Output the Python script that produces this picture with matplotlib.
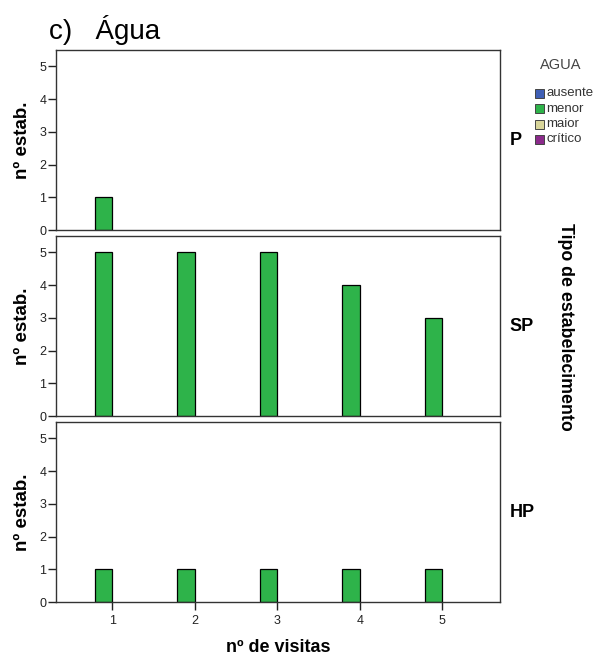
import matplotlib.pyplot as plt
from matplotlib.patches import Rectangle

plt.rcParams['font.family'] = ['Liberation Sans', 'DejaVu Sans']

# dados
visitas = [1, 2, 3, 4, 5]
tipos = ["P", "SP", "HP"]
categorias = ["ausente", "menor", "maior", "crítico"]
cores = ["#3F5FB5", "#2EB34A", "#D8D59A", "#8B2A8B"]

# contagens de "menor" por tipo de estabelecimento
menor_P = [1, 0, 0, 0, 0]
menor_SP = [5, 5, 5, 4, 3]
menor_HP = [1, 1, 1, 1, 1]
valores = [menor_P, menor_SP, menor_HP]

W, H = 596, 664
fig = plt.figure(figsize=(W / 100, H / 100), dpi=100)

left, width = 0.094, 0.745
tops = [0.9247, 0.6446, 0.3645]
h = 0.2715
largura = 0.21

for i, (tipo, vals) in enumerate(zip(tipos, valores)):
    ax = fig.add_axes([left, tops[i] - h, width, h])
    xs = [v - largura for v, n in zip(visitas, vals) if n > 0]
    ys = [n for n in vals if n > 0]
    ax.bar(xs, ys, width=largura, align="edge",
           color=cores[1], edgecolor="black", linewidth=0.9)
    ax.set_xlim(0.32, 5.7)
    ax.set_ylim(0, 5.5)
    ax.set_yticks(range(6))
    ax.tick_params(axis="y", direction="out", length=6, width=1, labelsize=9,
                   colors="#222222", pad=1)
    if i < 2:
        ax.set_xticks([])
    else:
        ax.set_xticks(visitas)
        ax.tick_params(axis="x", direction="out", length=6, width=1,
                       labelsize=9, colors="#222222", pad=3)
        ax.set_xlabel("nº de visitas", fontsize=13, fontweight="bold",
                      labelpad=9)
    for s in ax.spines.values():
        s.set_color("#333333")
        s.set_linewidth(1)
    ax.set_ylabel("nº estab.", fontsize=13.5, fontweight="bold", labelpad=6)
    ax.text(1.022, 0.5, tipo, transform=ax.transAxes, fontsize=13,
            fontweight="bold", va="center", ha="left")

fig.text(0.082, 0.955, "c)   Água", fontsize=20, ha="left", va="center")

fig.text(0.948, 0.508, "Tipo de estabelecimento", rotation=-90, fontsize=12.8,
         fontweight="bold", ha="center", va="center")

# legenda
fig.text(561 / W, 1 - 65 / H, "AGUA", fontsize=10.5, color="#444444",
         ha="center", va="center")
for k, (c, l) in enumerate(zip(cores, categorias)):
    yc = 93 + 15.5 * k
    fig.patches.append(Rectangle((535 / W, 1 - (yc + 4.5) / H), 9 / W, 9 / H,
                                 transform=fig.transFigure, facecolor=c,
                                 edgecolor="#444444", linewidth=0.7))
    fig.text(546.5 / W, 1 - yc / H, l, fontsize=9.5, color="#333333",
             ha="left", va="center")

fig.savefig("out.png", dpi=100)
